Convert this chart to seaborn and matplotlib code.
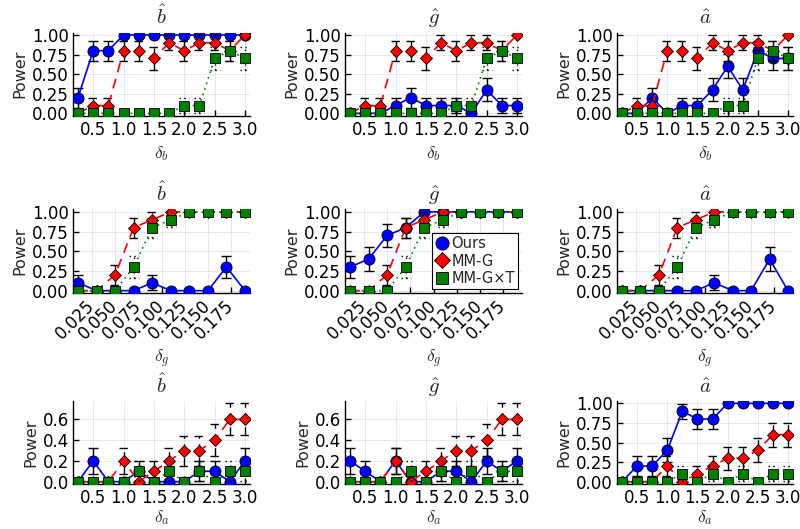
import numpy as np
import pandas as pd
import seaborn as sns
import matplotlib
matplotlib.use("Agg")
import matplotlib.pyplot as plt
from matplotlib.lines import Line2D

# x grids
delta_b = [0.25, 0.5, 0.75, 1.0, 1.25, 1.5, 1.75, 2.0, 2.25, 2.5, 2.75, 3.0]
delta_g = [0.01, 0.03, 0.05, 0.07, 0.09, 0.11, 0.13, 0.15, 0.17, 0.19]
delta_a = [0.25, 0.5, 0.75, 1.0, 1.25, 1.5, 1.75, 2.0, 2.25, 2.5, 2.75, 3.0]

# row 1: varying delta_b
ours_b_bhat = [0.2, 0.8, 0.8, 1.0, 1.0, 1.0, 1.0, 1.0, 1.0, 1.0, 1.0, 1.0]
ours_b_ghat = [0.0, 0.0, 0.0, 0.1, 0.2, 0.1, 0.1, 0.1, 0.0, 0.3, 0.1, 0.1]
ours_b_ahat = [0.0, 0.0, 0.2, 0.0, 0.1, 0.1, 0.3, 0.6, 0.3, 0.8, 0.7, 0.7]
mmg_b = [0.0, 0.1, 0.1, 0.8, 0.8, 0.7, 0.9, 0.8, 0.9, 0.9, 0.8, 1.0]
mmgt_b = [0.0, 0.0, 0.0, 0.0, 0.0, 0.0, 0.0, 0.1, 0.1, 0.7, 0.8, 0.7]

# row 2: varying delta_g
ours_g_bhat = [0.1, 0.0, 0.0, 0.0, 0.1, 0.0, 0.0, 0.0, 0.3, 0.0]
ours_g_ghat = [0.3, 0.4, 0.7, 0.8, 1.0, 1.0, 1.0, 1.0, 1.0, 1.0]
ours_g_ahat = [0.0, 0.0, 0.0, 0.0, 0.0, 0.1, 0.0, 0.0, 0.4, 0.0]
mmg_g = [0.0, 0.0, 0.2, 0.8, 0.9, 1.0, 1.0, 1.0, 1.0, 1.0]
mmgt_g = [0.0, 0.0, 0.0, 0.3, 0.8, 0.9, 1.0, 1.0, 1.0, 1.0]

# row 3: varying delta_a
ours_a_bhat = [0.0, 0.2, 0.0, 0.0, 0.1, 0.0, 0.0, 0.0, 0.1, 0.1, 0.0, 0.2]
ours_a_ghat = [0.2, 0.1, 0.0, 0.2, 0.0, 0.0, 0.1, 0.1, 0.0, 0.2, 0.1, 0.2]
ours_a_ahat = [0.0, 0.2, 0.2, 0.4, 0.9, 0.8, 0.8, 1.0, 1.0, 1.0, 1.0, 1.0]
mmg_a = [0.0, 0.0, 0.0, 0.2, 0.0, 0.1, 0.2, 0.3, 0.3, 0.4, 0.6, 0.6]
mmgt_a = [0.0, 0.0, 0.0, 0.0, 0.1, 0.0, 0.1, 0.0, 0.1, 0.0, 0.1, 0.1]

n_reps = 10
titles = [r"$\hat{b}$", r"$\hat{g}$", r"$\hat{a}$"]
xlabels = [r"$\delta_b$", r"$\delta_g$", r"$\delta_a$"]
methods = ["Ours", "MM-G", "MM-G×T"]

rows = [
    (delta_b, [ours_b_bhat, ours_b_ghat, ours_b_ahat], mmg_b, mmgt_b),
    (delta_g, [ours_g_bhat, ours_g_ghat, ours_g_ahat], mmg_g, mmgt_g),
    (delta_a, [ours_a_bhat, ours_a_ghat, ours_a_ahat], mmg_a, mmgt_a),
]

styles = {
    "Ours": dict(color="blue", marker="o", ms=8.0, ls="-"),
    "MM-G": dict(color="red", marker="D", ms=6.3, ls=(0, (6, 4))),
    "MM-G×T": dict(color="green", marker="s", ms=7.3, ls=(0, (1, 2.5))),
}

sns.set_style("ticks")
plt.rcParams["font.family"] = ["DejaVu Sans"]
plt.rcParams["mathtext.fontset"] = "cm"

fig = plt.figure(figsize=(8, 5.29), dpi=100)
W, H = 800, 529
col_left = [73, 345, 617]
col_w = [177, 177, 176]
row_top = [32.6, 209.5, 401]
row_bot = [115.7, 293, 484]
xlabel_pad = [4, 4, 0.5]

for r, (xs, ours_list, mmg, mmgt) in enumerate(rows):
    for c in range(3):
        ax = fig.add_axes([col_left[c] / W, 1 - row_bot[r] / H,
                           col_w[c] / W, (row_bot[r] - row_top[r]) / H])
        series = {"Ours": ours_list[c], "MM-G": mmg, "MM-G×T": mmgt}
        xmin, xmax = min(xs), max(xs)
        xpad = 0.03 * (xmax - xmin)
        cap = 5.0 / col_w[c] * (xmax - xmin + 2 * xpad)
        lo_all, hi_all = [], []
        for z, m in enumerate(methods):
            st = styles[m]
            p = np.array(series[m])
            se = np.sqrt(p * (1 - p) / n_reps)
            lo, hi = p - se, p + se
            lo_all.append(lo.min())
            hi_all.append(hi.max())
            x = np.array(xs)
            ax.vlines(x, lo, hi, colors="black", linewidth=1.0,
                      linestyles=[st["ls"]], zorder=2 + 2 * z)
            for yy in (lo, hi):
                mask = se > 0
                ax.hlines(yy[mask], x[mask] - cap, x[mask] + cap, colors="black",
                          linewidth=1.0, linestyles=[st["ls"]], zorder=2 + 2 * z)
            df = pd.DataFrame({"x": xs, "power": series[m]})
            sns.lineplot(data=df, x="x", y="power", ax=ax, color=st["color"],
                         marker=st["marker"], markersize=st["ms"],
                         markeredgecolor="black", markeredgewidth=0.6,
                         linestyle=st["ls"], linewidth=1.2, legend=False,
                         errorbar=None, sort=False, zorder=3 + 2 * z)
        ylo, yhi = min(lo_all), max(hi_all)
        ypad = 0.03 * (yhi - ylo)
        ax.set_ylim(ylo - ypad, yhi + ypad)
        ax.set_xlim(xmin - xpad, xmax + xpad)

        if yhi < 0.9:
            ax.set_yticks([0.0, 0.2, 0.4, 0.6])
            ax.set_yticklabels(["0.0", "0.2", "0.4", "0.6"])
        else:
            yt = [0.0, 0.25, 0.5, 0.75, 1.0]
            ax.set_yticks(yt)
            ax.set_yticklabels([f"{v:.2f}" for v in yt])
        if r == 1:
            xt = [0.025, 0.05, 0.075, 0.1, 0.125, 0.15, 0.175]
            ax.set_xticks(xt)
            ax.set_xticklabels([f"{v:.3f}" for v in xt], rotation=45,
                               ha="right", va="center", rotation_mode="anchor")
            ax.tick_params(axis="x", pad=7)
        else:
            xt = [0.5, 1.0, 1.5, 2.0, 2.5, 3.0]
            ax.set_xticks(xt)
            ax.set_xticklabels([f"{v:.1f}" for v in xt])

        ax.grid(True, color="black", alpha=0.1, linewidth=0.6)
        ax.tick_params(direction="in", length=4, width=1, labelsize=12,
                       color="black", labelcolor="black")
        ax.tick_params(axis="y", pad=3)
        for s in ["top", "right"]:
            ax.spines[s].set_visible(False)
        for s in ["left", "bottom"]:
            ax.spines[s].set_color("black")
            ax.spines[s].set_linewidth(1.0)
        ax.set_title(titles[c], fontsize=15, pad=6)
        ax.set_xlabel(xlabels[r], fontsize=12.5, labelpad=xlabel_pad[r])
        ax.set_ylabel("Power", fontsize=11.5, labelpad=3)

        if r == 1 and c == 1:
            handles = [Line2D([], [], linestyle="none", marker=styles[m]["marker"],
                              color=styles[m]["color"], markeredgecolor="black",
                              markeredgewidth=0.6, markersize=styles[m]["ms"] + 1.5)
                       for m in methods]
            leg = ax.legend(handles, methods, loc="lower right", fontsize=10.5,
                            frameon=True, fancybox=False, framealpha=1,
                            edgecolor="black", borderpad=0.2, labelspacing=0.15,
                            handlelength=1.0, handletextpad=0.1,
                            borderaxespad=0.3)
            leg.get_frame().set_linewidth(0.8)
            leg.set_zorder(20)

fig.savefig("out.png", dpi=100)
